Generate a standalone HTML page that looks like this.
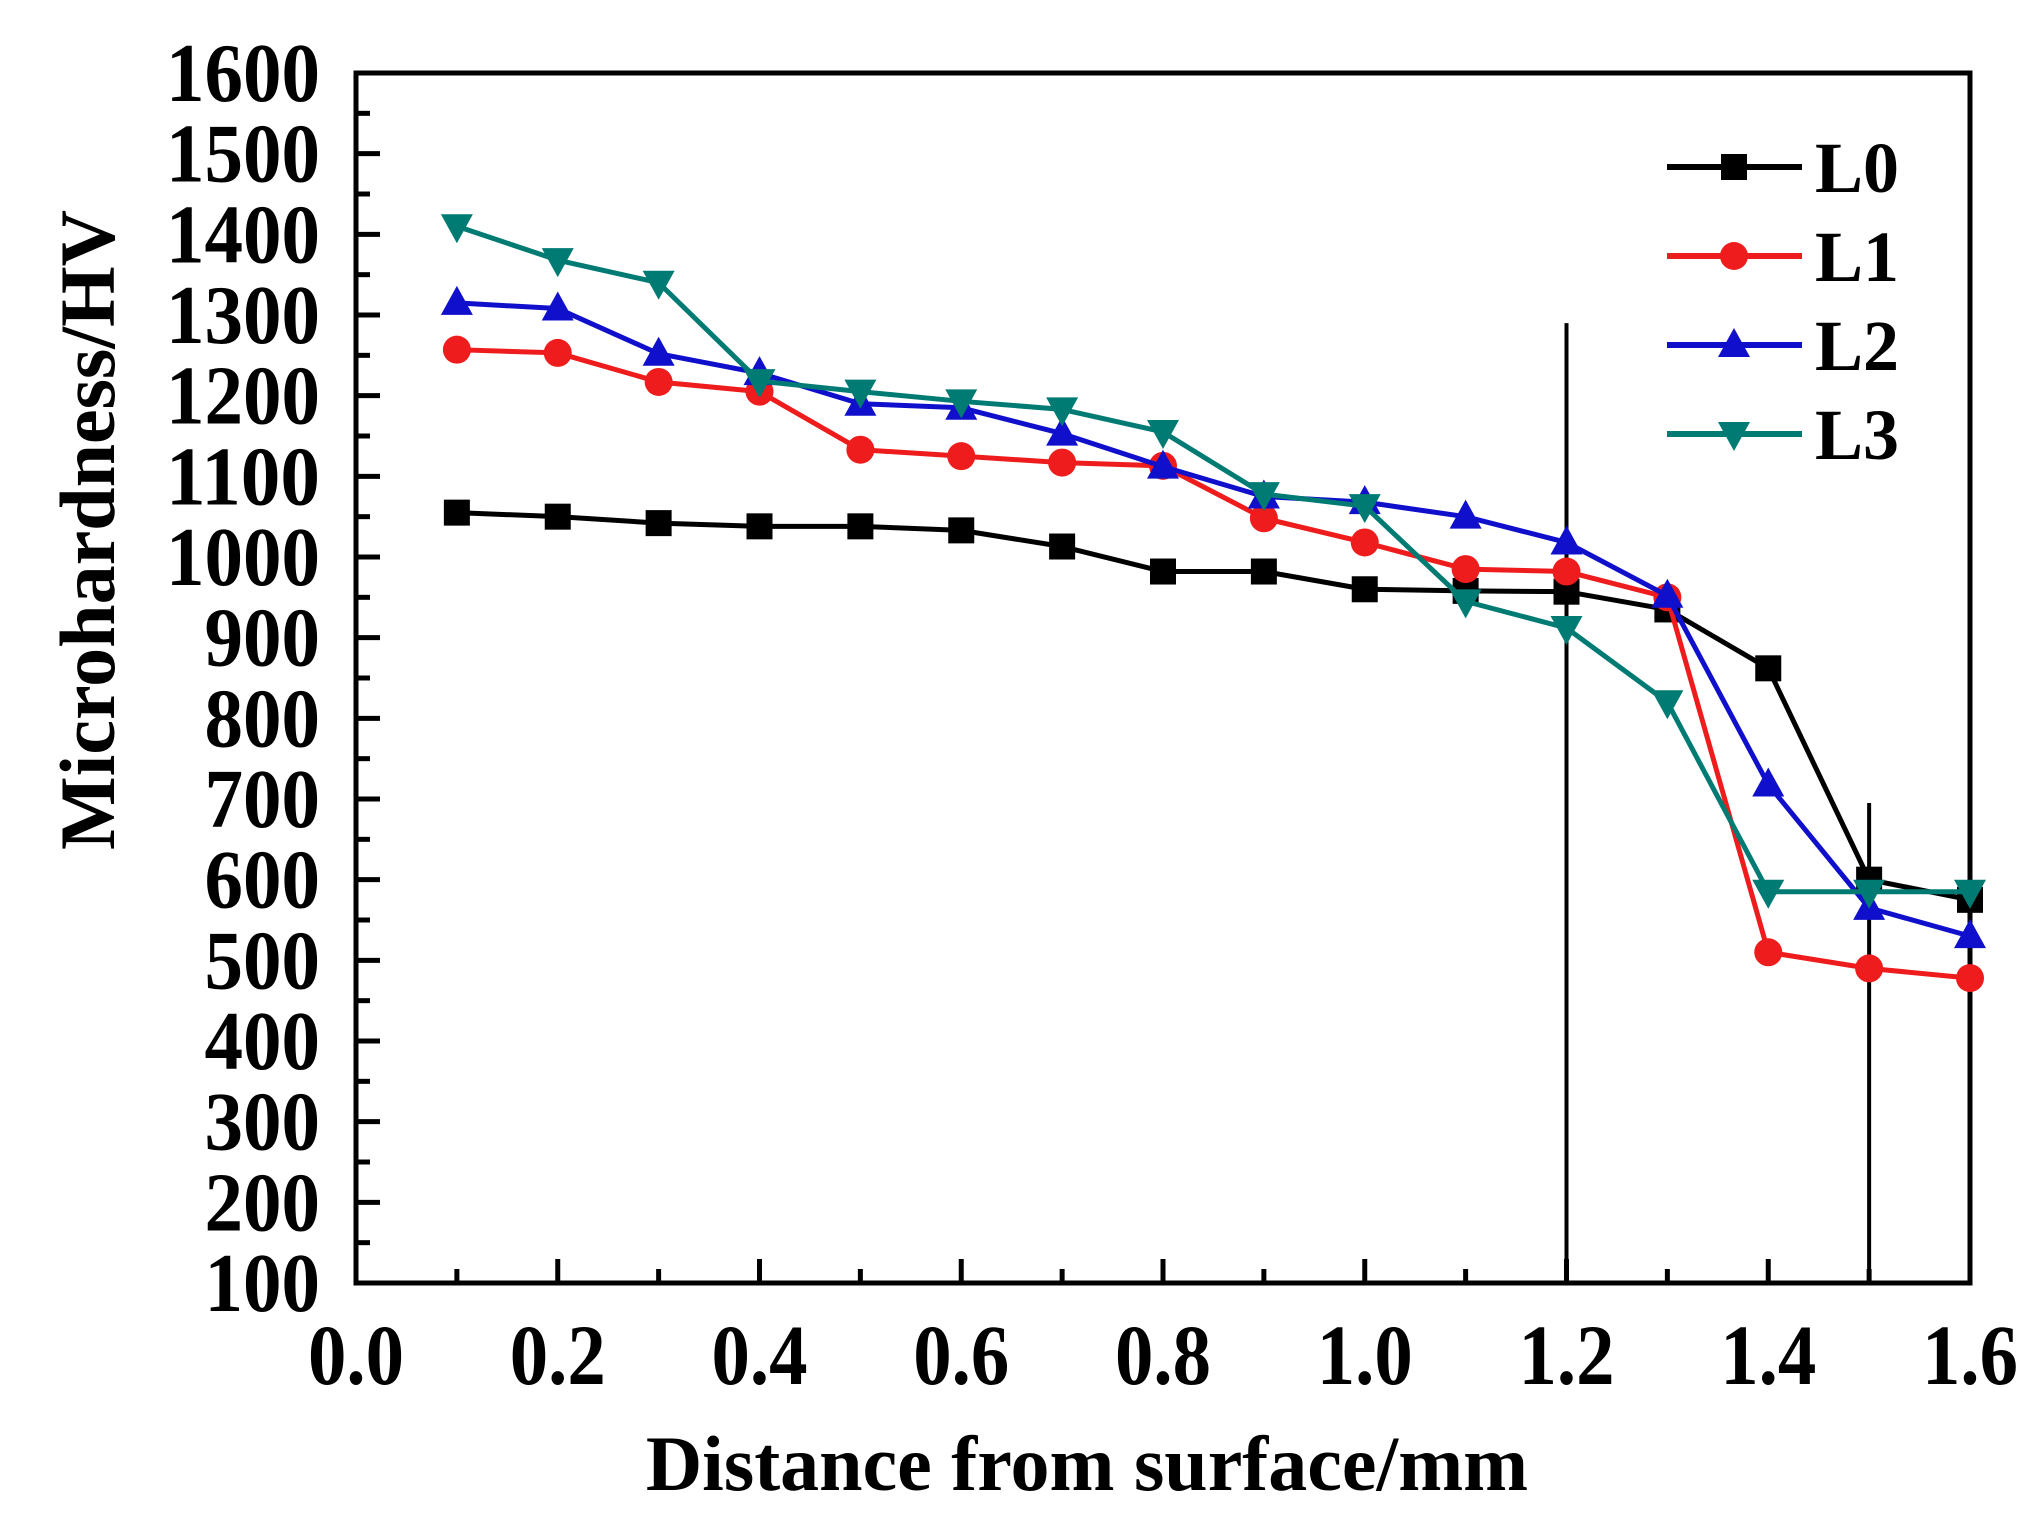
<!DOCTYPE html>
<html><head><meta charset="utf-8"><style>
html,body{margin:0;padding:0;background:#fff}
svg{display:block}
text{font-family:"Liberation Serif",serif;font-weight:bold;fill:#000}
</style></head><body>
<svg id="chart" width="2044" height="1524" viewBox="0 0 2044 1524" xmlns="http://www.w3.org/2000/svg">
<g id="axes"></g>
<g id="plot"></g>
<g id="legend"></g>
<text x="0" y="0" font-size="78" text-anchor="middle" transform="translate(114,530) rotate(-90)">Microhardness/HV</text>
<text x="1087" y="1490" font-size="78" text-anchor="middle">Distance from surface/mm</text>
</svg>
<script>
const xValues=[0.1,0.2,0.3,0.4,0.5,0.6,0.7,0.8,0.9,1.0,1.1,1.2,1.3,1.4,1.5,1.6];
const seriesL0=[1055,1050,1042,1038,1038,1033,1013,982,982,960,958,957,935,862,600,575];
const seriesL1=[1257,1253,1217,1205,1133,1125,1117,1113,1048,1018,985,982,950,510,490,478];
const seriesL2=[1315,1308,1252,1228,1190,1185,1153,1112,1075,1068,1050,1018,952,718,565,530];
const seriesL3=[1410,1368,1340,1218,1205,1193,1183,1155,1078,1063,945,912,820,585,585,585];
const seriesNames=["L0","L1","L2","L3"];
const yTickLabels=["100","200","300","400","500","600","700","800","900","1000","1100","1200","1300","1400","1500","1600"];
const xTickLabels=["0.0","0.2","0.4","0.6","0.8","1.0","1.2","1.4","1.6"];
const refLineX=[1.2,1.5];
const refLineTop=[1290,695];

const L=356,R=1970,T=73,B=1283;
const X=v=>L+(v-0)/1.6*(R-L);
const Y=v=>B-(v-100)/1500*(B-T);
const NS="http://www.w3.org/2000/svg";
function mk(tag,attrs,parent){const e=document.createElementNS(NS,tag);for(const k in attrs)e.setAttribute(k,attrs[k]);parent.appendChild(e);return e;}
const axes=document.getElementById('axes'),plot=document.getElementById('plot'),legend=document.getElementById('legend');

let fr=mk('rect',{x:L,y:T,width:R-L,height:B-T,fill:'none',stroke:'#000','stroke-width':5},axes);



yTickLabels.forEach((lab,i)=>{
  const v=+lab,y=Y(v);
  let t=mk('line',{x1:L,x2:L+24,y1:y,y2:y,stroke:'#000','stroke-width':5},axes);
  
  
  if(i<yTickLabels.length-1){
    let m=mk('line',{x1:L,x2:L+14,y1:Y(v+50),y2:Y(v+50),stroke:'#000','stroke-width':5},axes);
    
    
  }
  let tx=mk('text',{x:320,y:y+28,'font-size':84,'text-anchor':'end',textLength:lab.length*38.5,lengthAdjust:'spacingAndGlyphs'},axes);
  tx.textContent=lab;
  
  
});
xTickLabels.forEach((lab,i)=>{
  const v=+lab,x=X(v);
  let t=mk('line',{x1:x,x2:x,y1:B,y2:B-24,stroke:'#000','stroke-width':5},axes);
  
  
  if(i<xTickLabels.length-1){
    let m=mk('line',{x1:X(v+0.1),x2:X(v+0.1),y1:B,y2:B-14,stroke:'#000','stroke-width':5},axes);
    
    
  }
  let tx=mk('text',{x:x,y:1384,'font-size':86,'text-anchor':'middle',textLength:96,lengthAdjust:'spacingAndGlyphs'},axes);
  tx.textContent=lab;
  
  
});
refLineX.forEach((v,i)=>{
  let l=mk('line',{x1:X(v),x2:X(v),y1:Y(refLineTop[i]),y2:B,stroke:'#000','stroke-width':4},plot);
  
  
});

const colors=['#000000','#ee1c1c','#1010cc','#007b74'];
const shapes=['square','circle','up','down'];
function marker(shape,x,y,c,parent){
  let e;
  if(shape==='square')e=mk('rect',{x:x-13,y:y-13,width:26,height:26,fill:c},parent);
  else if(shape==='circle')e=mk('circle',{cx:x,cy:y,r:14,fill:c},parent);
  else if(shape==='up')e=mk('polygon',{points:`${x},${y-17} ${x-16},${y+12} ${x+16},${y+12}`,fill:c},parent);
  else e=mk('polygon',{points:`${x},${y+17} ${x-16},${y-12} ${x+16},${y-12}`,fill:c},parent);
  return e;
}
[seriesL0,seriesL1,seriesL2,seriesL3].forEach((s,si)=>{
  const g=mk('g',{},plot);
  
  
  const pl=mk('polyline',{points:s.map((v,i)=>X(xValues[i])+','+Y(v)).join(' '),fill:'none',stroke:colors[si],'stroke-width':5,'stroke-linejoin':'round'},g);
  
  
  s.forEach((v,i)=>{
    const m=marker(shapes[si],X(xValues[i]),Y(v),colors[si],g);
    
    
  });
  const ly=167+si*89;
  const lg=mk('g',{},legend);
  
  
  mk('line',{x1:1667,x2:1802,y1:ly,y2:ly,stroke:colors[si],'stroke-width':6},lg);
  marker(shapes[si],1734,ly,colors[si],lg);
  const t=mk('text',{x:1815,y:ly+25,'font-size':72},lg);
  t.textContent=seriesNames[si];
  
  
});
</script>
</body></html>
